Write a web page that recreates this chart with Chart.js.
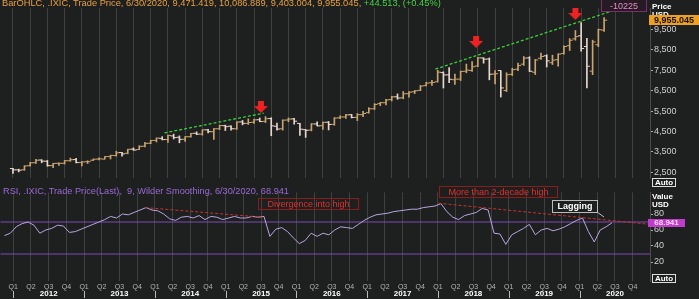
<!DOCTYPE html>
<html>
<head>
<meta charset="utf-8">
<script src="https://cdn.jsdelivr.net/npm/chart.js@4.4.0/dist/chart.umd.min.js"></script>
<style>
  html, body { margin: 0; padding: 0; background: #1e1f1f; }
  #wrap { position: relative; width: 699px; height: 299px; overflow: hidden; background: #1e1f1f; font-family: "Liberation Sans", Arial, sans-serif; }
  canvas { position: absolute; left: 0; }
  #priceCanvas { top: 0; }
  #rsiCanvas { top: 186px; }
  .t { position: absolute; white-space: nowrap; line-height: 1; z-index: 5; }
  .axlab { color: #fff; font-weight: bold; font-size: 8px; }
  .box { position: absolute; box-sizing: border-box; text-align: center; white-space: nowrap; z-index: 5; }
</style>
</head>
<body>
<div id="wrap">
  <canvas id="priceCanvas" width="699" height="186"></canvas>
  <canvas id="rsiCanvas" width="699" height="113"></canvas>

  <div class="t" style="left:2px;top:-1px;font-size:9.3px;color:#e8a040;">BarOHLC, .IXIC, Trade Price, 6/30/2020, 9,471.419, 10,086.889, 9,403.004, 9,955.045, <span style="color:#46d246;">+44.513, (+0.45%)</span></div>
  <div class="box" style="left:601px;top:-1px;width:46px;height:13px;border:1px solid #7a2e6a;background:#261a24;color:#e48cc8;font-size:9px;line-height:12px;">-10225</div>
  <div class="t axlab" style="left:652px;top:3px;">Price</div>
  <div class="t axlab" style="left:652px;top:11px;">USD</div>
  <div class="box" style="left:649px;top:15px;width:50px;height:10px;background:#f0a020;color:#111;font-weight:bold;font-size:9px;line-height:10px;">9,955.045</div>
  <div class="box" style="left:652px;top:178px;width:24px;height:9px;border:1px solid #ddd;color:#fff;font-weight:bold;font-size:8px;line-height:8px;">Auto</div>

  <div class="t" style="left:3px;top:187px;font-size:9.2px;color:#9a6ad8;">RSI, .IXIC, Trade Price(Last), &nbsp;9, Wilder Smoothing, 6/30/2020, 68.941</div>
  <div class="box" style="left:439px;top:186px;width:119px;height:12px;border:1px solid #8a1c1c;color:#e03030;font-size:9px;line-height:10px;">More than 2-decade high</div>
  <div class="box" style="left:258px;top:198px;width:101px;height:12px;border:1px solid #8a1c1c;color:#e03030;font-size:9px;line-height:10px;">Divergence into high</div>
  <div class="box" style="left:552px;top:200px;width:46px;height:13px;border:1px solid #bbb;background:#1e1f1f;color:#fff;font-weight:bold;font-size:9px;line-height:11px;">Lagging</div>
  <svg style="position:absolute;left:596px;top:211px;z-index:5;" width="10" height="8"><line x1="1" y1="1" x2="8" y2="6" stroke="#bbb" stroke-width="1"/></svg>
  <div class="t axlab" style="left:652px;top:193px;">Value</div>
  <div class="t axlab" style="left:652px;top:201px;">USD</div>
  <div class="box" style="left:648px;top:219px;width:37px;height:8px;background:#c03ccc;color:#ffd8ff;font-weight:bold;font-size:8px;line-height:8px;">68.941</div>
  <div class="box" style="left:652px;top:274px;width:24px;height:9px;border:1px solid #ddd;color:#fff;font-weight:bold;font-size:8px;line-height:8px;">Auto</div>
</div>

<script>
// monthly bars of .IXIC, Nov 2011 .. Jun 2020 (index 0 = Nov 2011)
const opens = [2684,2620, 2624,2823,2969,3102,3043,2829,2940,2941,3067,3123,2987,3017, 3092,3148,3148,3270,3321,3469,3434,3636,3616,3780,3923,4064, 4161,4107,4282,4217,4117,4244,4414,4372,4581,4488,4633,4782, 4760,4631,4972,4899,4953,5078,4998,5134,4756,4632,5065,5118, 4897,4589,4571,4869,4786,4954,4850,5167,5212,5322,5192,5324, 5425,5612,5866,5911,6062,6201,6151,6353,6448,6516,6751,6890, 6937,7388,7277,7038,7068,7454,7490,7709,8105,8051,7317,7486, 6507,7305,7556,7801,8107,7404,8091,8210,7873,8020,8328,8707, 9039,9191,8667,7459,8753,9471];
const highs = [2697,2654, 2818,2990,3134,3116,3078,2941,2965,3082,3196,3184,3023,3068, 3154,3213,3270,3339,3532,3482,3629,3694,3802,3968,4070,4178, 4247,4320,4372,4286,4247,4409,4485,4580,4610,4641,4810,4814, 4777,4975,5042,5120,5111,5164,5231,5176,4916,5070,5164,5143, 4903,4598,4886,4975,4967,4991,5176,5272,5343,5342,5381,5487, 5669,5867,5929,6075,6229,6342,6460,6460,6508,6759,6914,7004, 7506,7427,7637,7318,7465,7806,7933,8133,8110,8107,7487,7487, 7382,7604,7850,8176,8164,8035,8340,8260,8243,8313,8705,9053, 9451,9838,9071,8975,9523,10087];
const lows = [2441,2520, 2597,2803,2931,2967,2798,2726,2836,2906,3039,2959,2810,2930, 3078,3106,3149,3154,3292,3295,3404,3581,3612,3739,3902,3985, 4087,3969,4131,3946,4018,4228,4343,4320,4430,4116,4591,4547, 4563,4607,4825,4846,4902,4979,4939,4292,4568,4566,4978,4858, 4313,4210,4530,4769,4597,4575,4807,5128,5146,5165,5034,5224, 5398,5580,5769,5805,5996,6081,6103,6177,6359,6503,6731,6763, 6924,6631,6890,6805,6996,7377,7447,7676,7849,7031,6830,6190, 6457,7244,7476,7742,7443,7292,8039,7663,7783,7700,8291,8467, 8977,8437,6631,7287,8656,9403];
const closes = [2620,2605, 2814,2967,3092,3046,2827,2935,2940,3067,3116,2977,3010,3020, 3142,3160,3268,3329,3456,3403,3626,3590,3771,3920,4060,4177, 4104,4308,4199,4115,4243,4408,4370,4580,4493,4631,4792,4736, 4635,4964,4901,4941,5070,4987,5128,4777,4620,5054,5109,5007, 4614,4558,4870,4775,4948,4843,5162,5213,5312,5189,5324,5383, 5615,5825,5912,6048,6199,6140,6348,6429,6496,6728,6874,6903, 7411,7273,7063,7066,7442,7510,7672,8110,8046,7306,7331,6635, 7282,7533,7729,8095,7453,8006,8175,7963,7999,8292,8665,8973, 9151,8567,7700,8890,9490,9955.045];

// RSI(9), same months
const rsi = [53,56, 64,68,70,66,56,60,62,66,65,57,58,61, 64,67,70,73,77,75,80,79,82,85,88,85, 84,80,74,72,76,77,75,78,73,77,76,73, 75,77,75,75,77,76,77,52,61,63,58,50, 43,47,56,52,56,54,60,64,63,62,67,72, 76,79,80,81,83,84,85,86,86,88,89,90, 93,83,76,73,78,80,82,87,85,56,55,42, 54,58,62,67,54,60,62,59,61,64,68,72, 75,58,45,60,64,68.941];

// annotations (month index, value)
const priceTrend1 = [{ x: 26.4, y: 4430 }, { x: 43.7, y: 5400 }];
const priceTrend2 = [{ x: 73.6, y: 7560 }, { x: 104.1, y: 10380 }];
const arrowMarks = [{ x: 43.2, y: 5700 }, { x: 80.7, y: 8890 }, { x: 98, y: 10260 }];
const rsiTrend1 = [{ x: 23.9, y: 88 }, { x: 43.7, y: 76 }];
const rsiTrend2 = [{ x: 73.6, y: 93.5 }, { x: 109.5, y: 67 }];
const rsiLevels = [70, 30];

// axis labels
const priceTicks = [2500, 3000, 3500, 4000, 4500, 5000, 5500, 6000, 6500, 7000, 7500, 8000, 8500, 9000, 9500];
const rsiTicks = [20, 40, 60, 80];
const quarterNames = ['Q1', 'Q2', 'Q3', 'Q4'];
const years = ['2012', '2013', '2014', '2015', '2016', '2017', '2018', '2019', '2020'];

const FIRST_YEAR_START = 1.5; // Jan 2012 boundary in month index
const quarterTicks = [];
for (let k = 0; k < years.length * 4; k++) quarterTicks.push(FIRST_YEAR_START + 3 * k);

const GRID = 'rgba(255,255,255,0.15)';
const UP = '#c9a46e';
const DOWN = '#e9d6cc';
const barColors = closes.map((c, i) => c >= opens[i] ? UP : DOWN);

// red block arrow used as point style
function makeArrow() {
  const c = document.createElement('canvas');
  c.width = 14; c.height = 12;
  const g = c.getContext('2d');
  g.fillStyle = '#ee2222';
  g.fillRect(4, 0, 6, 6);
  g.beginPath();
  g.moveTo(0, 5); g.lineTo(14, 5); g.lineTo(7, 12); g.closePath();
  g.fill();
  return c;
}

// set min/max so value a sits at pixel pa and b at pb
function pin(chart, id, a, pa, b, pb) {
  const s = chart.scales[id];
  const o = chart.options.scales[id];
  if (s.isHorizontal()) {
    const k = (pb - pa) / (b - a);
    o.min = a - (pa - s.left) / k;
    o.max = a + (s.right - pa) / k;
  } else {
    const k = (pa - pb) / (b - a);
    o.max = a + (pa - s.top) / k;
    o.min = a - (s.bottom - pa) / k;
  }
}

const fmt = v => v.toLocaleString('en-US');
const isBold = ctx => !!(ctx && ctx.tick && ctx.tick.value === 5000);

const priceChart = new Chart(document.getElementById('priceCanvas'), {
  type: 'scatter',
  data: {
    datasets: [
      {
        type: 'bar',
        data: highs.map((h, i) => ({ x: i, y: [lows[i], h] })),
        backgroundColor: barColors,
        barThickness: 1,
        grouped: false,
        order: 3
      },
      {
        type: 'scatter',
        data: opens.map((v, i) => ({ x: i - 0.25, y: v })),
        pointStyle: 'line',
        pointRadius: 1.6,
        pointBorderColor: barColors,
        pointBorderWidth: 1,
        order: 2
      },
      {
        type: 'scatter',
        data: closes.map((v, i) => ({ x: i + 0.25, y: v })),
        pointStyle: 'line',
        pointRadius: 1.6,
        pointBorderColor: barColors,
        pointBorderWidth: 1,
        order: 2
      },
      { type: 'line', data: priceTrend1, borderColor: '#3ccc3c', borderDash: [3, 2], borderWidth: 1.3, pointRadius: 0, order: 1 },
      { type: 'line', data: priceTrend2, borderColor: '#3ccc3c', borderDash: [3, 2], borderWidth: 1.3, pointRadius: 0, order: 1 },
      { type: 'scatter', data: arrowMarks, pointStyle: makeArrow(), pointRadius: 7, order: 0 }
    ]
  },
  options: {
    responsive: false,
    animation: false,
    devicePixelRatio: 1,
    layout: { padding: 0 },
    plugins: { legend: { display: false }, tooltip: { enabled: false } },
    scales: {
      x: {
        type: 'linear',
        min: -0.7, max: 109.5,
        afterBuildTicks: s => { s.ticks = quarterTicks.map(v => ({ value: v })); },
        ticks: { display: false },
        grid: { color: GRID, drawTicks: false },
        border: { display: false },
        afterFit: s => { s.height = 0; }
      },
      y: {
        position: 'right',
        min: 1800, max: 10950,
        afterBuildTicks: s => { s.ticks = priceTicks.map(v => ({ value: v })); },
        ticks: {
          padding: 1,
          color: ctx => isBold(ctx) ? '#ffffff' : '#cfcfcf',
          font: ctx => ({ family: 'Liberation Sans', size: 9, weight: isBold(ctx) ? 'bold' : 'normal' }),
          callback: v => fmt(v)
        },
        grid: { drawOnChartArea: false, drawTicks: true, tickLength: 3, color: '#aaa' },
        border: { display: true, color: '#4a4a4a' },
        afterFit: s => { s.width = 49; }
      }
    }
  }
});

// quarter labels come from the x axis, year row drawn underneath
const yearRow = {
  id: 'yearRow',
  afterDraw(chart) {
    const x = chart.scales.x;
    const ctx = chart.ctx;
    ctx.save();
    ctx.font = 'bold 8px "Liberation Sans"';
    ctx.fillStyle = '#ffffff';
    ctx.textAlign = 'center';
    ctx.textBaseline = 'middle';
    const yRow = x.top + 13;
    years.forEach((yr, j) => {
      const start = FIRST_YEAR_START + 12 * j;
      ctx.fillText(yr, x.getPixelForValue(start + 6), yRow);
      const px = Math.round(x.getPixelForValue(start)) + 0.5;
      ctx.strokeStyle = '#bbbbbb';
      ctx.lineWidth = 1;
      ctx.beginPath();
      ctx.moveTo(px, yRow - 3);
      ctx.lineTo(px, yRow + 4);
      ctx.stroke();
    });
    ctx.restore();
  }
};

const rsiChart = new Chart(document.getElementById('rsiCanvas'), {
  type: 'line',
  data: {
    datasets: [
      { data: rsi.map((v, i) => ({ x: i, y: v })), borderColor: '#b9a6e0', borderWidth: 1, pointRadius: 0, tension: 0, order: 1 },
      ...rsiLevels.map(l => ({ data: [{ x: -5, y: l }, { x: 115, y: l }], borderColor: '#7d4cb8', borderWidth: 1, pointRadius: 0, order: 3 })),
      { data: rsiTrend1, borderColor: '#c83232', borderDash: [3, 2], borderWidth: 1, pointRadius: 0, order: 0 },
      { data: rsiTrend2, borderColor: '#c83232', borderDash: [3, 2], borderWidth: 1, pointRadius: 0, order: 0 }
    ]
  },
  options: {
    responsive: false,
    animation: false,
    devicePixelRatio: 1,
    layout: { padding: 0 },
    plugins: { legend: { display: false }, tooltip: { enabled: false } },
    scales: {
      x: {
        type: 'linear',
        min: -0.7, max: 109.5,
        afterBuildTicks: s => { s.ticks = quarterTicks.map(v => ({ value: v })); },
        ticks: {
          autoSkip: false, maxRotation: 0, padding: 2,
          color: '#b4b4b4',
          font: { family: 'Liberation Sans', size: 7 },
          callback: (v, i) => quarterNames[i % 4]
        },
        grid: { color: GRID, drawTicks: false },
        border: { display: false },
        afterFit: s => { s.height = 18; }
      },
      y: {
        position: 'right',
        min: -4, max: 114,
        afterBuildTicks: s => { s.ticks = rsiTicks.map(v => ({ value: v })); },
        ticks: { padding: 1, color: '#cfcfcf', font: { family: 'Liberation Sans', size: 9 } },
        grid: { drawOnChartArea: false, drawTicks: true, tickLength: 3, color: '#aaa' },
        border: { display: true, color: '#4a4a4a' },
        afterFit: s => { s.width = 49; }
      }
    }
  },
  plugins: [yearRow]
});

// line both panels up with the reference pixel grid
pin(priceChart, 'x', 1.5, 12.8, 97.5, 579.5);
pin(priceChart, 'y', 5000, 121.3, 9500, 29.5);
priceChart.update('none');
pin(rsiChart, 'x', 1.5, 12.8, 97.5, 579.5);
pin(rsiChart, 'y', 80, 214 - 186, 20, 262 - 186);
rsiChart.update('none');
</script>
</body>
</html>
